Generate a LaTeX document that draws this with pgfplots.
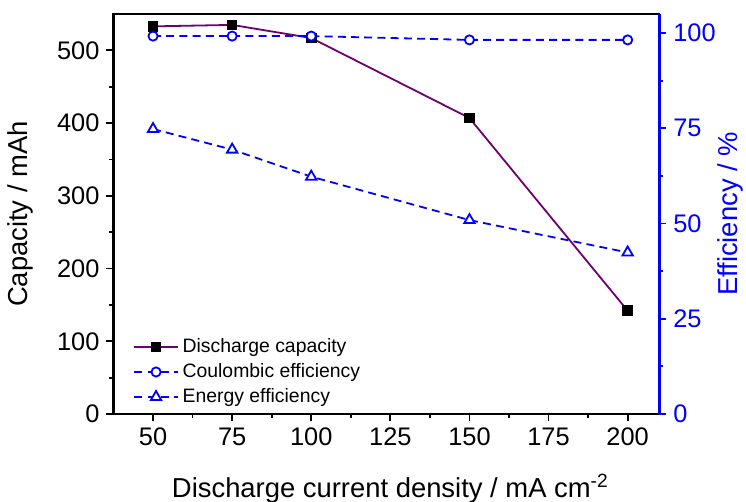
\documentclass[border=0pt]{standalone}
\usepackage{fontspec}
\setmainfont{Liberation Sans}
\usepackage{pgfplots}
\pgfplotsset{compat=1.18}
\definecolor{dpurple}{HTML}{700070}
\definecolor{eblue}{HTML}{0000FF}
\begin{document}
\begin{tikzpicture}
\pgfplotsset{every axis/.append style={
  scale only axis, width=272.9pt, height=200pt,
  xmin=37.5, xmax=210,
  /pgf/number format/assume math mode=true,
  tick label style={font=\fontsize{12.7}{14}\selectfont},
  label style={font=\fontsize{13.7}{16}\selectfont},
  tick align=outside,
  major tick length=3.5pt, minor tick length=2pt,
  every tick/.style={line width=0.9pt},
  every minor tick/.style={line width=0.9pt},
}}
\begin{axis}[
  xtick pos=bottom, ytick pos=left,
  ymin=0, ymax=550,
  xtick={50,75,...,200}, ytick={0,100,...,500},
  minor x tick num=1, minor y tick num=1,
  axis line style={line width=1.1pt},
  xlabel={Discharge current density / mA cm\textsuperscript{-2}},
  ylabel={Capacity / mAh},
  ylabel style={at={(rel axis cs:0,0.5)}, anchor=south, yshift=36.5pt},
  xlabel style={at={(rel axis cs:0.5,0)}, anchor=base, yshift=-42pt, xshift=2pt},
]
\coordinate (O) at (rel axis cs:0,0);
\addplot[color=dpurple, line width=0.9pt, mark=square*, mark size=2.2pt,
  mark options={fill=black, draw=black, solid}]
  coordinates {(50,533) (75,535) (100,517) (150,407) (200,142)};
\end{axis}
\begin{axis}[
  axis y line*=right, axis x line=none,
  ymin=0, ymax=105,
  ytick={0,25,...,100}, minor y tick num=1,
  y axis line style={eblue, line width=1.3pt},
  y tick style={eblue},
  yticklabel style={eblue},
  ylabel style={eblue, at={(rel axis cs:1,0.5)}, anchor=south, yshift=-45.5pt},
  ylabel={Efficiency / \%},
  legend style={at={(0.025,0.21)}, anchor=north west, draw=none, fill=none,
    font=\fontsize{9.7}{11}\selectfont, cells={anchor=west}},
  legend image code/.code={\draw[mark repeat=2,mark phase=2,#1] plot coordinates {(0cm,0cm) (0.38cm,0cm) (0.76cm,0cm)};},
]
\addlegendimage{color=dpurple, line width=0.9pt, mark=square*, mark size=2.2pt, mark options={fill=black, draw=black, solid}}
\addlegendentry{Discharge capacity}
\addplot[color=eblue, line width=0.9pt, dash pattern=on 4pt off 2.6pt, mark=*, mark size=2.3pt,
  mark options={fill=white, draw=eblue, solid}]
  coordinates {(50,99.2) (75,99.2) (100,99.2) (150,98.2) (200,98.2)};
\addlegendentry{Coulombic efficiency}
\addplot[color=eblue, line width=0.9pt, dash pattern=on 4pt off 2.6pt, mark=triangle*, mark size=3pt,
  mark options={fill=white, draw=eblue, solid}]
  coordinates {(50,74.8) (75,69.4) (100,62.3) (150,50.9) (200,42.4)};
\addlegendentry{Energy efficiency}
\end{axis}
\pgfresetboundingbox
\path ([shift={(-56.75pt,-44pt)}]O) rectangle ([shift={(316.25pt,207pt)}]O);
\end{tikzpicture}
\end{document}
